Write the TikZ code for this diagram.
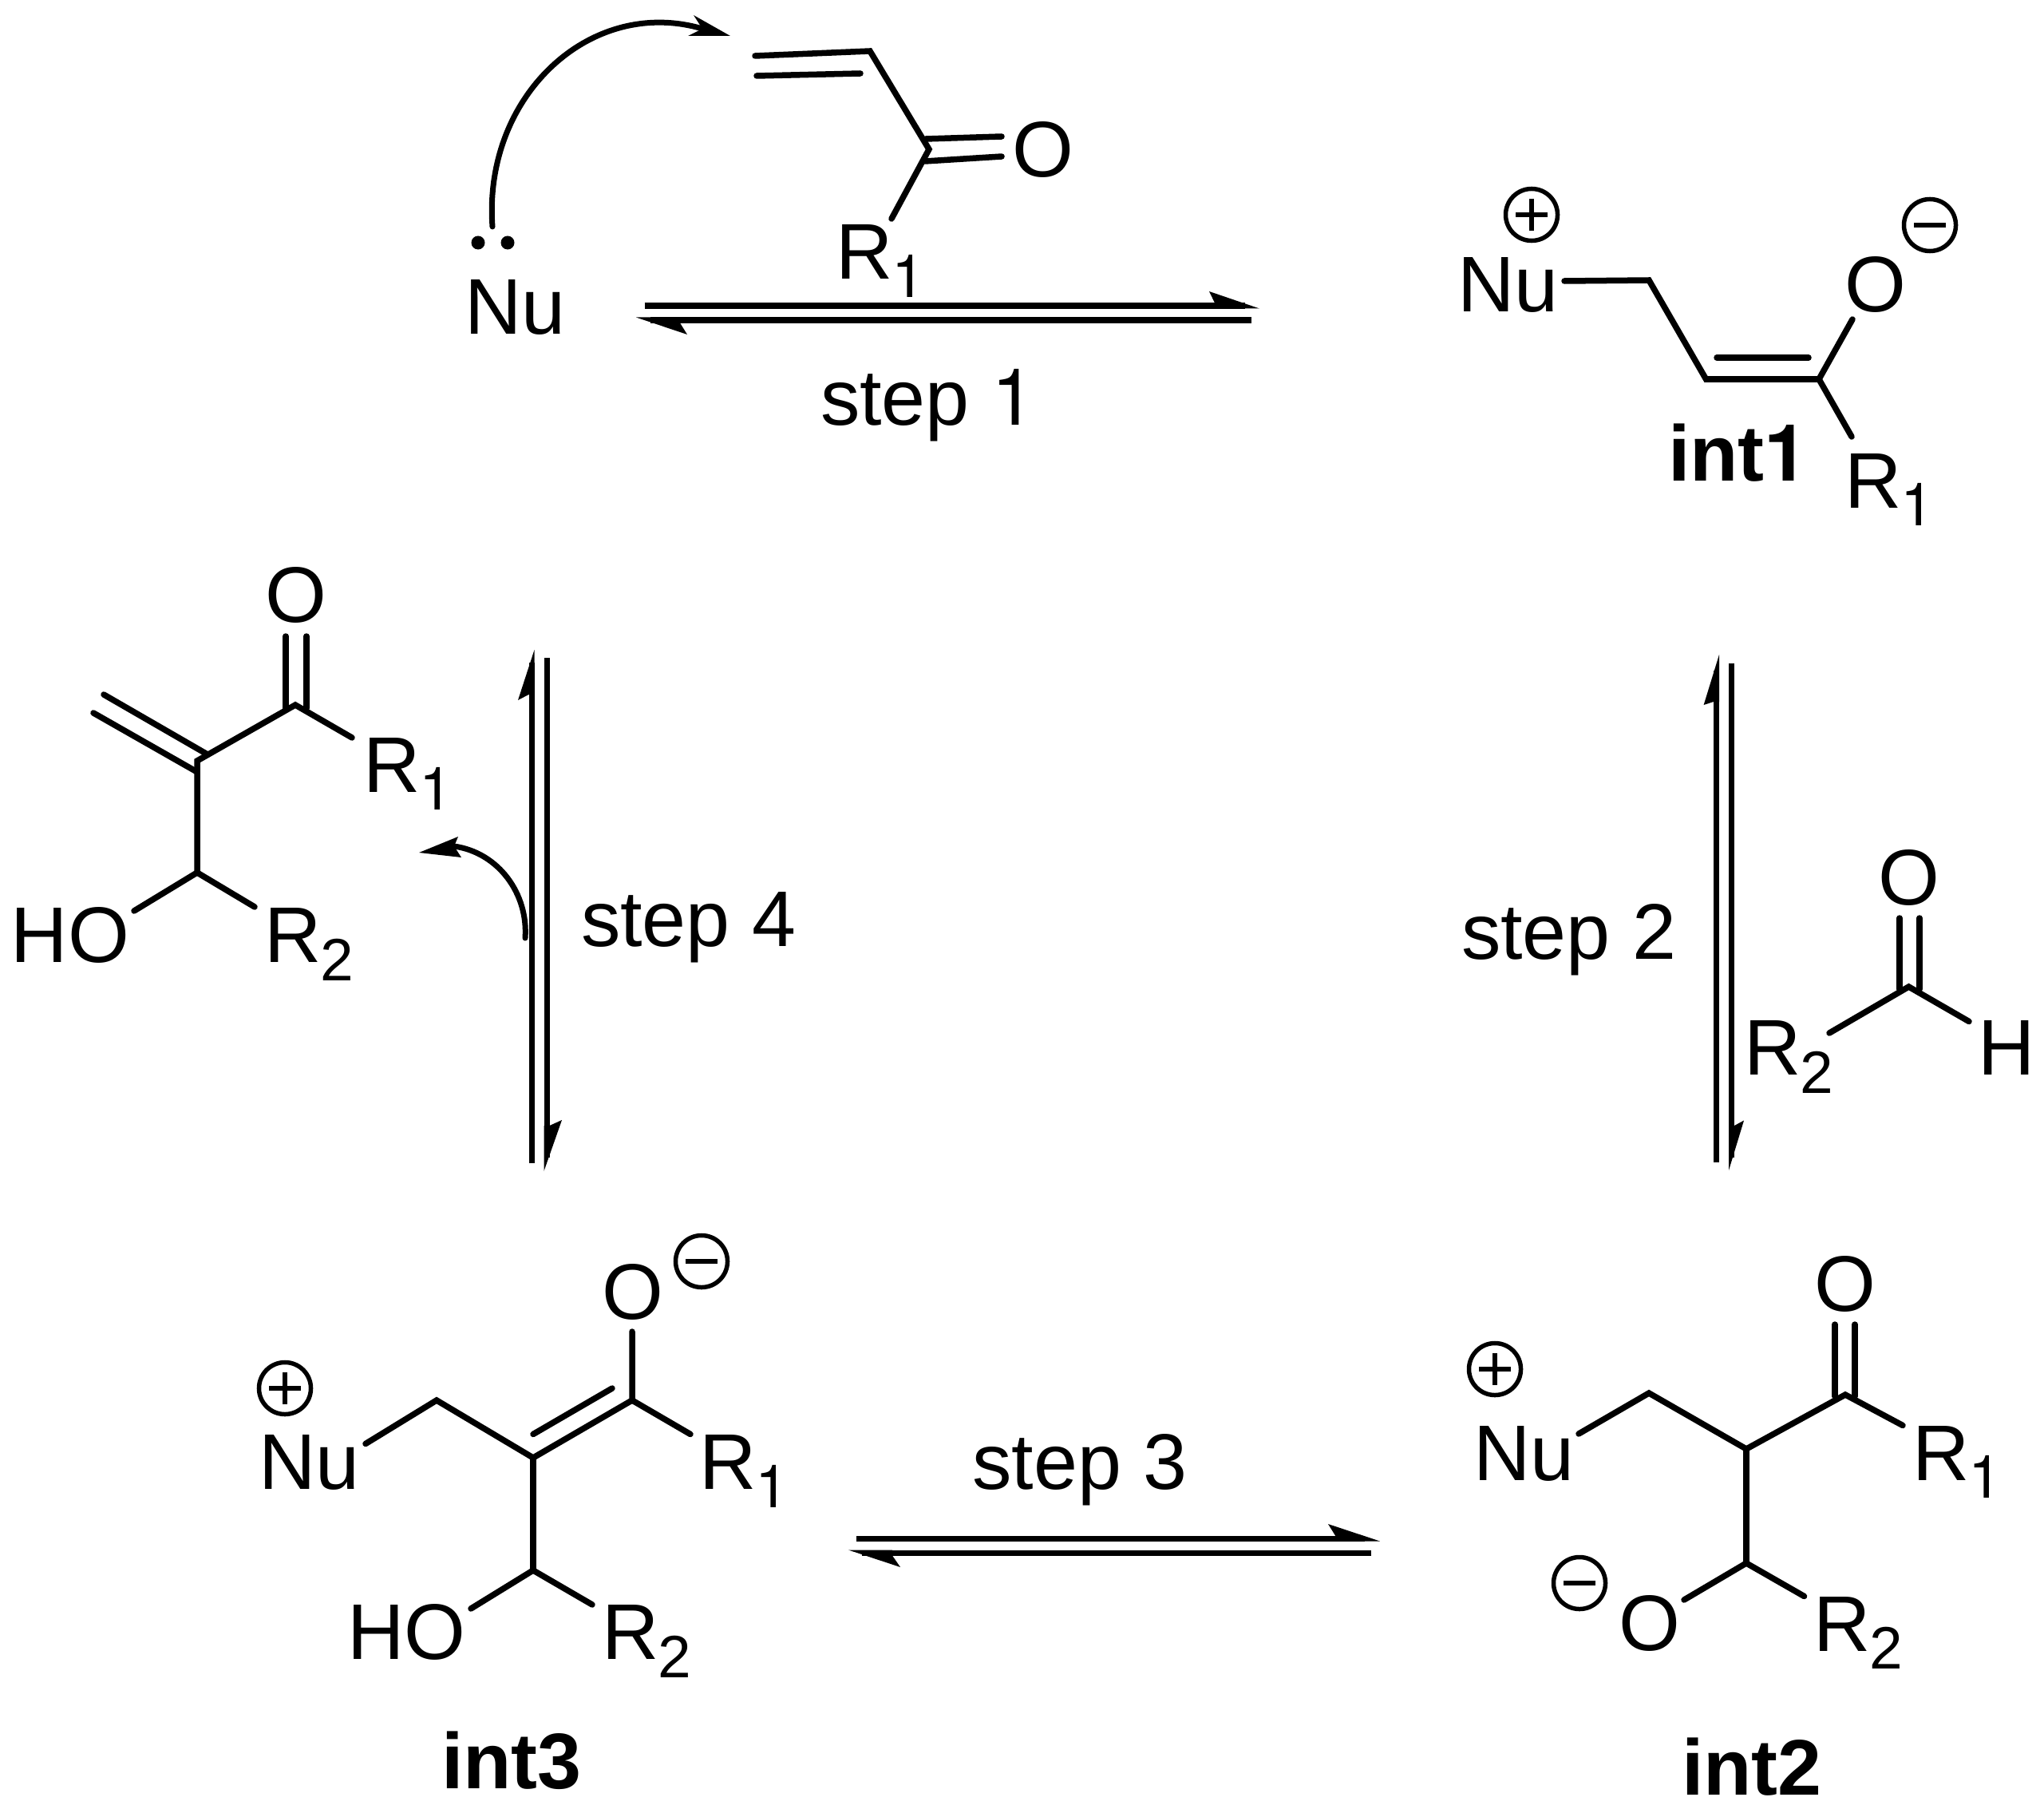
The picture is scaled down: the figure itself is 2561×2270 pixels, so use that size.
\documentclass[tikz,border=0pt]{standalone}
\usepackage{fontspec}
\setmainfont{Liberation Sans}
\newfontfamily\herosfnt{TeX Gyre Heros}
\newcommand\onedigit{{\herosfnt 1}}
\newcommand\subfnt{\fontsize{21.3}{24}\selectfont}
\newcommand\Rsub[1]{R\kern-0.01cm\raisebox{-0.225cm}{\subfnt #1}}
\tikzset{
  lbl/.style={inner sep=0pt,outer sep=0pt,anchor=base west,font=\fontsize{28.1}{30}\selectfont},
  blbl/.style={lbl,font=\fontsize{28.1}{30}\selectfont\bfseries},
  bond/.style={line width=0.075cm,line cap=round,line join=miter,black},
  eqline/.style={line width=0.07cm,line cap=butt,black},
  curved/.style={line width=0.07cm,line cap=round,black},
  barbtip/.style={fill=black,draw=none},
  chgc/.style={circle,draw=black,line width=0.055cm,minimum size=0.65cm,inner sep=0pt,outer sep=0pt},
  chgm/.style={line width=0.06cm,line cap=butt,black},
  ldot/.style={circle,fill=black,draw=none,minimum size=0.17cm,inner sep=0pt}
}
\newcommand\chgplus[3]{\node[chgc] (#1) at (#2,#3) {};
  \draw[chgm] (#1.center) ++(-20,0) -- ++(40,0) (#1.center) ++(0,-20) -- ++(0,40);}
\newcommand\chgminus[3]{\node[chgc] (#1) at (#2,#3) {};
  \draw[chgm] (#1.center) ++(-20,0) -- ++(40,0);}
\newcommand\eqarrow[7]{\coordinate (#1s) at (#2); \coordinate (#1e) at (#3);
  \draw[eqline] (#1s) -- (#1e);
  \fill[barbtip] (#4) -- (#5) -- (#6) -- (#7) -- cycle;}
\begin{document}
\begin{tikzpicture}[x=0.01cm,y=-0.01cm]
\fill[white] (0,0) rectangle (2561,2270);
\useasboundingbox (0,0) rectangle (2561,2270);

% ---------- top left: Nu + enone
\node[lbl] (nu0) at (582,418.5) {Nu};
\node[ldot] (lp1) at (599,304) {};
\node[ldot] (lp2) at (636,304) {};
\coordinate (v1) at (946,70);
\coordinate (v1i) at (948,95);
\coordinate (v2) at (1090,64);
\coordinate (v2i) at (1078,92);
\coordinate (v3) at (1164,187);
\coordinate (vo1) at (1160,174);
\coordinate (vo1e) at (1255,171);
\coordinate (vo2) at (1159,202);
\coordinate (vo2e) at (1255,196);
\coordinate (vr) at (1117,274);
\draw[bond] (v1) -- (v2) -- (v3) -- (vr);
\draw[bond] (v1i) -- (v2i);
\draw[bond] (vo1) -- (vo1e);
\draw[bond] (vo2) -- (vo2e);
\node[lbl] (o0) at (1268,222) {O};
\node[lbl] (r0) at (1047,350) {\Rsub{\onedigit}};
\coordinate (ca1s) at (617,284);
\coordinate (ca1e) at (880,36);
\draw[curved] (ca1s) .. controls (605,120) and (740,-5) .. (ca1e);
\fill[barbtip] (915,45) -- (869,19) -- (880,36) -- (862,45) -- cycle;

% step 1
\eqarrow{a1u}{807.5,383}{1560,383}{1578,386.5}{1515,365}{1522,379.5}{1522,386.5}
\eqarrow{a1l}{1568,401}{815,401}{797,397.5}{861,419}{852,404.5}{852,397.5}
\node[lbl] (s1) at (1028,532) {step \onedigit};

% ---------- int1
\node[lbl] (nu1) at (1826,391) {Nu};
\chgplus{cp1}{1919}{269}
\chgminus{cm1}{2418}{282}
\coordinate (a1) at (1960,352);
\coordinate (a2) at (2066,351);
\coordinate (a3) at (2137.5,475);
\coordinate (a4) at (2279,475);
\coordinate (a3i) at (2151,448);
\coordinate (a4i) at (2266,448);
\coordinate (a5) at (2321,400);
\coordinate (a6) at (2320,547);
\draw[bond] (a1) -- (a2) -- (a3) -- (a4) -- (a5);
\draw[bond] (a4) -- (a6);
\draw[bond] (a3i) -- (a4i);
\node[lbl] (o1) at (2311,390) {O};
\node[lbl] (r1) at (2311,636) {\Rsub{\onedigit}};
\node[blbl] (int1) at (2090,602) {int\onedigit};

% ---------- step 2 + aldehyde
\eqarrow{a2u}{2150.5,1456}{2150.5,840}{2154,820}{2134.6,883}{2147,879}{2154,879}
\eqarrow{a2d}{2169.5,830.5}{2169.5,1450}{2166,1466}{2185,1403.5}{2173,1410}{2166,1410}
\node[lbl] (s2) at (1831,1201.5) {step 2};
\coordinate (b1) at (2380,1150);
\coordinate (b1e) at (2380,1239);
\coordinate (b2) at (2405,1150);
\coordinate (b2e) at (2405,1239);
\coordinate (b3) at (2391.5,1236);
\coordinate (b4) at (2292,1294);
\coordinate (b5) at (2467,1279.5);
\draw[bond] (b1) -- (b1e);
\draw[bond] (b2) -- (b2e);
\draw[bond] (b4) -- (b3) -- (b5);
\node[lbl] (o2) at (2353,1133) {O};
\node[lbl] (r2) at (2185,1346.5) {\Rsub{2}};
\node[lbl] (h2) at (2478,1346.5) {H};

% ---------- int2
\node[lbl] (nu3) at (1846,1854) {Nu};
\chgplus{cp2}{1873}{1715}
\chgminus{cm2}{1979}{1983}
\coordinate (c1) at (1978,1796);
\coordinate (c2) at (2066,1745);
\coordinate (c3) at (2188,1815);
\coordinate (c4) at (2312,1747);
\coordinate (c5) at (2384,1785.5);
\coordinate (c6) at (2188,1958);
\coordinate (c7) at (2110,2004);
\coordinate (c8) at (2260.5,1999.5);
\coordinate (c9) at (2299,1659);
\coordinate (c9e) at (2299,1749);
\coordinate (c10) at (2324,1659);
\coordinate (c10e) at (2324,1749);
\draw[bond] (c1) -- (c2) -- (c3) -- (c4) -- (c5);
\draw[bond] (c3) -- (c6);
\draw[bond] (c7) -- (c6) -- (c8);
\draw[bond] (c9) -- (c9e);
\draw[bond] (c10) -- (c10e);
\node[lbl] (o3) at (2273,1642) {O};
\node[lbl] (r3) at (2396,1854) {\Rsub{\onedigit}};
\node[lbl] (o4) at (2028,2067) {O};
\node[lbl] (r4) at (2272.5,2068) {\Rsub{2}};
\node[blbl] (int2) at (2107,2248.5) {int2};

% ---------- step 3
\eqarrow{a3u}{1073,1927}{1710,1927}{1729,1930.5}{1664,1909}{1673,1923.5}{1673,1930.5}
\eqarrow{a3l}{1718,1945}{1080,1945}{1063,1941.5}{1128,1963}{1118,1948.5}{1118,1941.5}
\node[lbl] (s3) at (1218.5,1865.5) {step 3};

% ---------- int3
\node[lbl] (nu4) at (324.5,1865.5) {Nu};
\chgplus{cp3}{357}{1739}
\chgminus{cm3}{879}{1580}
\coordinate (d1) at (458,1808.5);
\coordinate (d2) at (547,1754);
\coordinate (d3) at (668,1826);
\coordinate (d4) at (792,1754);
\coordinate (d3i) at (668,1796.5);
\coordinate (d4i) at (767,1739);
\coordinate (d5) at (792,1668);
\coordinate (d6) at (865,1796.5);
\coordinate (d7) at (668,1967);
\coordinate (d8) at (590,2015);
\coordinate (d9) at (742,2010);
\draw[bond] (d1) -- (d2) -- (d3) -- (d4) -- (d5);
\draw[bond] (d4) -- (d6);
\draw[bond] (d3i) -- (d4i);
\draw[bond] (d3) -- (d7);
\draw[bond] (d8) -- (d7) -- (d9);
\node[lbl] (o5) at (754,1652) {O};
\node[lbl] (r5) at (876,1865.5) {\Rsub{\onedigit}};
\node[lbl] (ho5) at (435.5,2078.5) {HO};
\node[lbl] (r6) at (754,2078.5) {\Rsub{2}};
\node[blbl] (int3) at (553,2240) {int3};

% ---------- step 4
\eqarrow{a4u}{666,1457}{666,830}{669.5,814}{649,877}{662.5,870}{669.5,870}
\eqarrow{a4d}{685,824}{685,1450}{681.5,1467}{704,1403}{688.5,1410}{681.5,1410}
\node[lbl] (s4) at (728,1185) {step 4};
\coordinate (ca2s) at (658,1175);
\coordinate (ca2e) at (569,1060);
\draw[curved] (ca2s) .. controls (662,1120) and (625,1068) .. (ca2e);
\fill[barbtip] (525,1068) -- (574,1048) -- (569,1060) -- (578,1074) -- cycle;

% ---------- product
\coordinate (e1) at (358,797);
\coordinate (e1e) at (358,887);
\coordinate (e2) at (384,797);
\coordinate (e2e) at (384,887);
\coordinate (e3) at (370,883);
\coordinate (e4) at (441,924);
\coordinate (e5) at (247,953);
\coordinate (e6) at (247,1093);
\coordinate (e7) at (168,1141);
\coordinate (e8) at (319,1136);
\coordinate (e9) at (130,870);
\coordinate (e9e) at (260,945);
\coordinate (e10) at (117,893);
\coordinate (e10e) at (247,967);
\draw[bond] (e1) -- (e1e);
\draw[bond] (e2) -- (e2e);
\draw[bond] (e4) -- (e3) -- (e5) -- (e6) -- (e7);
\draw[bond] (e6) -- (e8);
\draw[bond] (e9) -- (e9e);
\draw[bond] (e10) -- (e10e);
\node[lbl] (o6) at (332,779) {O};
\node[lbl] (r7) at (455,992) {\Rsub{\onedigit}};
\node[lbl] (ho6) at (14,1205.5) {HO};
\node[lbl] (r8) at (331,1205.5) {\Rsub{2}};
\end{tikzpicture}
\end{document}
